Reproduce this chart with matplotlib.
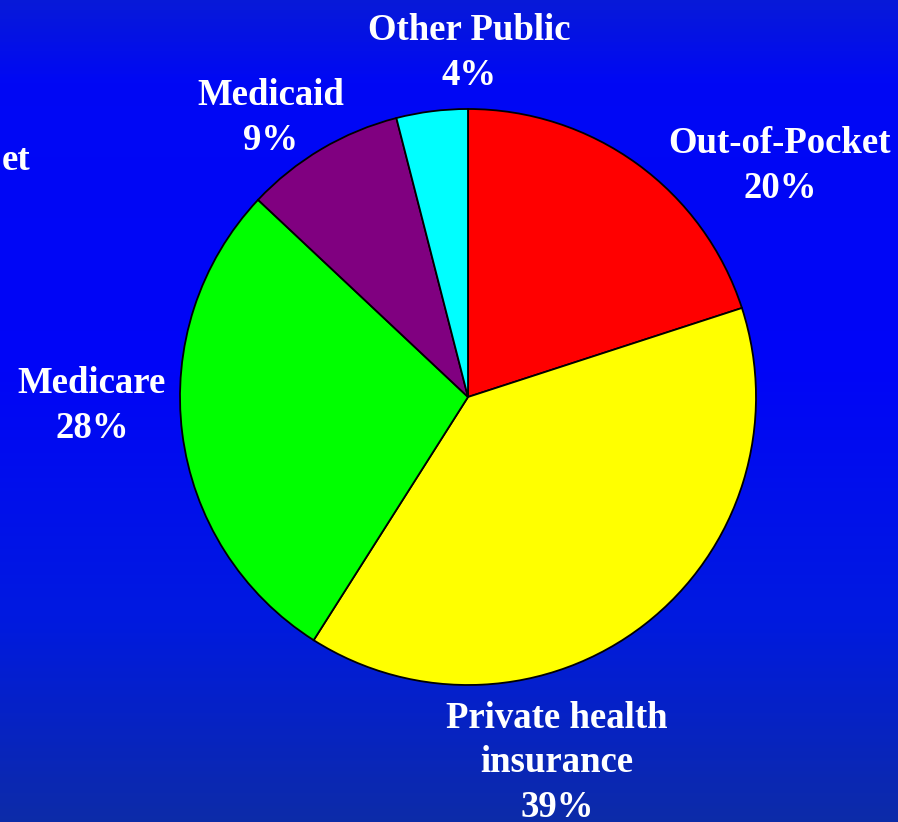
"""Pie chart: sources of health spending on a blue gradient slide."""

import numpy as np
import matplotlib.pyplot as plt
from matplotlib.colors import LinearSegmentedColormap

# ── Data ───────────────────────────────────────────────────────────────────
labels = ["Out-of-Pocket", "Private health\ninsurance", "Medicare", "Medicaid", "Other Public"]
shares = [20, 39, 28, 9, 4]
colors = ["#FF0000", "#FFFF00", "#00FF00", "#800080", "#00FFFF"]

W, H = 898, 822

fig = plt.figure(figsize=(W / 100, H / 100), dpi=100)
ax = fig.add_axes([0, 0, 1, 1])

# background gradient (top slightly lighter, bottom darker navy)
bg = LinearSegmentedColormap.from_list("bg", [
    (0.00, (0.03, 0.10, 0.85)),
    (0.10, (0.00, 0.03, 0.96)),
    (0.45, (0.00, 0.02, 0.97)),
    (0.75, (0.00, 0.10, 0.88)),
    (1.00, (0.05, 0.17, 0.66)),
])
grad = np.linspace(0, 1, 256).reshape(-1, 1)
ax.imshow(grad, cmap=bg, aspect="auto", extent=[0, W, 0, H], origin="upper", zorder=0)

# ── Pie ────────────────────────────────────────────────────────────────────
ax.pie(shares, colors=colors, startangle=90, counterclock=False,
       center=(468, H - 397), radius=288, frame=True,
       wedgeprops=dict(edgecolor="black", linewidth=1.3, zorder=2))
ax.set_xlim(0, W)
ax.set_ylim(0, H)
ax.set_aspect("equal")
ax.axis("off")

# ── Labels ─────────────────────────────────────────────────────────────────
label_pos = [(780, 166), (557, 763), (92, 406), (271, 118), (469, 53)]
txt = dict(color="white", fontsize=26.5, fontweight="bold", family="Liberation Serif",
           ha="center", va="center", linespacing=1.35, zorder=3)
for lab, val, (x, y) in zip(labels, shares, label_pos):
    ax.text(x, H - y, f"{lab}\n{val}%", **txt)

# leftover text clipped at the slide edge
ax.text(30, H - 160, "et", ha="right", va="center", color="white", fontsize=26.5,
        fontweight="bold", family="Liberation Serif", zorder=3)

fig.savefig("out.png", dpi=100, facecolor="white")
